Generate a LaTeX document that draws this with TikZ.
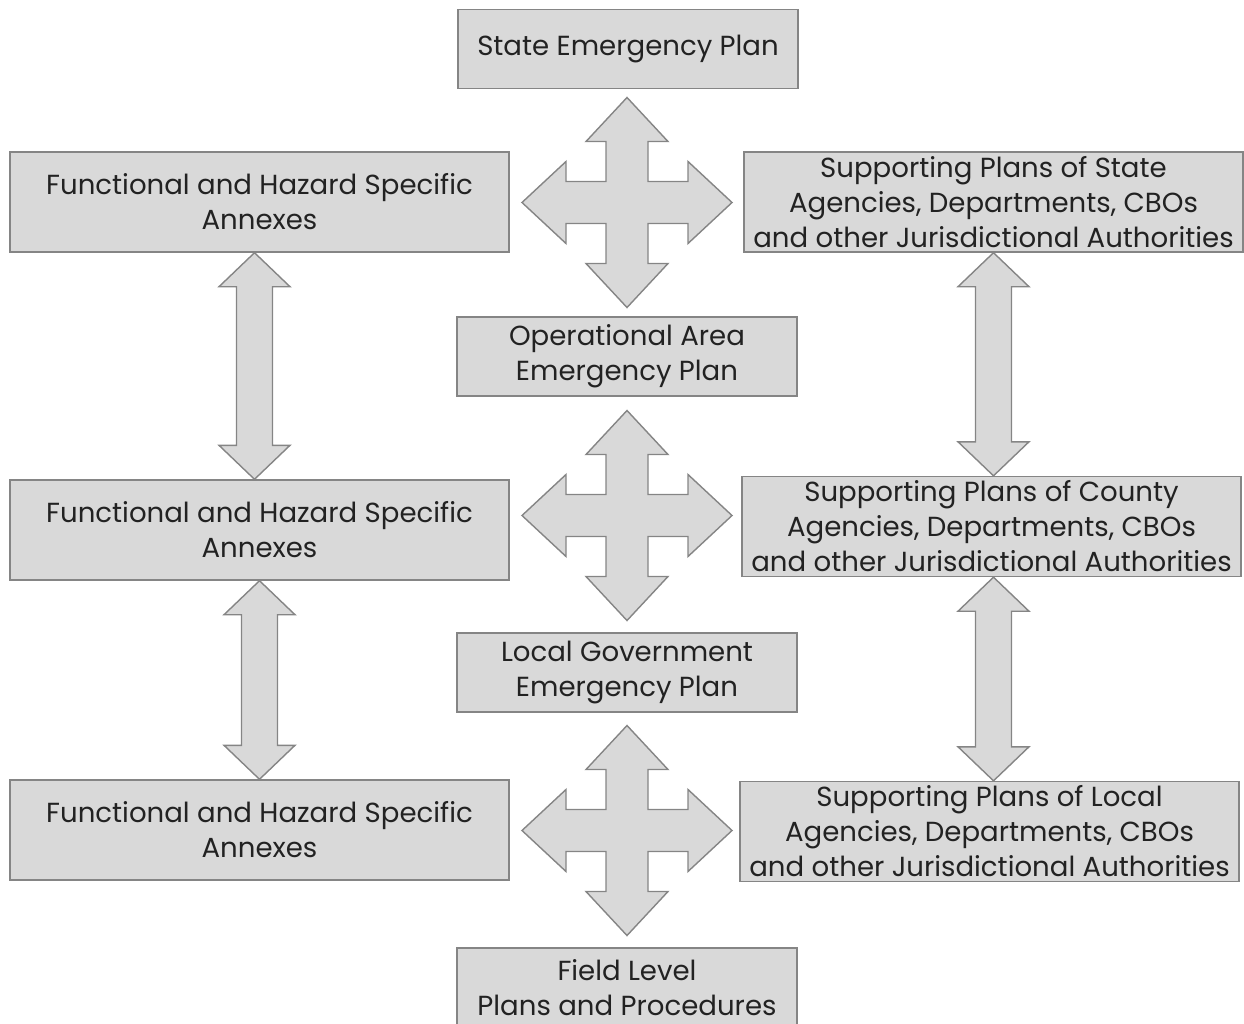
\documentclass[tikz,border=0pt]{standalone}
\usepackage{fontspec}
\setmainfont{Poppins}
\usepackage{xcolor}
\usetikzlibrary{calc}

\definecolor{boxfill}{HTML}{D9D9D9}
\definecolor{boxline}{HTML}{858585}
\definecolor{boxtext}{HTML}{222222}

\tikzset{
    plate/.style={draw=boxline,fill=boxfill,line width=0.8pt,line join=miter},
    plan/.style={plate,text=boxtext,align=center,inner sep=0pt,
        font=\fontsize{15.7}{19.9}\selectfont},
    midplan/.style={plan,minimum width=6.8cm,minimum height=1.58cm},
    sideplan/.style={plan,minimum width=9.98cm,minimum height=2cm}
}

% four-way arrow centred on #1
\newcommand{\crossarrow}[1]{%
    \draw[plate,shift={(#1)}] (0,2.1) -- (0.82,1.22) -- (0.42,1.22) -- (0.42,0.42)
        -- (1.22,0.42) -- (1.22,0.82) -- (2.1,0) -- (1.22,-0.82) -- (1.22,-0.42)
        -- (0.42,-0.42) -- (0.42,-1.22) -- (0.82,-1.22) -- (0,-2.1) -- (-0.82,-1.22)
        -- (-0.42,-1.22) -- (-0.42,-0.42) -- (-1.22,-0.42) -- (-1.22,-0.82) -- (-2.1,0)
        -- (-1.22,0.82) -- (-1.22,0.42) -- (-0.42,0.42) -- (-0.42,1.22) -- (-0.82,1.22) -- cycle;}

% up-down arrow from #1 (top tip) to #2 (bottom tip)
\newcommand{\linkarrow}[2]{%
    \draw[plate] (#1) -- ++(0.71,-0.68) -- ++(-0.35,0) -- ($(#2)+(0.36,0.68)$)
        -- ++(0.35,0) -- (#2) -- ++(-0.71,0.68) -- ++(0.35,0)
        -- ($(#1)+(-0.36,-0.68)$) -- ++(-0.35,0) -- cycle;}

\begin{document}
\begin{tikzpicture}
    \useasboundingbox (0,0) rectangle (24.88,-20.46);

    % centre column
    \node[midplan] (state) at (12.56,-0.98) {State Emergency Plan};
    \node[midplan] (oparea) at (12.54,-7.13) {Operational Area\\Emergency Plan};
    \node[midplan] (localgov) at (12.54,-13.45) {Local Government\\Emergency Plan};
    \node[midplan] (field) at (12.54,-19.75) {Field Level\\Plans and Procedures};

    % left column
    \node[sideplan] (annexA) at (5.19,-4.04) {Functional and Hazard Specific\\Annexes};
    \node[sideplan] (annexB) at (5.19,-10.6) {Functional and Hazard Specific\\Annexes};
    \node[sideplan] (annexC) at (5.19,-16.6) {Functional and Hazard Specific\\Annexes};

    % right column
    \node[sideplan] (suppState) at (19.87,-4.04) {Supporting Plans of State\\Agencies, Departments, CBOs\\and other Jurisdictional Authorities};
    \node[sideplan] (suppCounty) at (19.83,-10.53) {Supporting Plans of County\\Agencies, Departments, CBOs\\and other Jurisdictional Authorities};
    \node[sideplan] (suppLocal) at (19.79,-16.63) {Supporting Plans of Local\\Agencies, Departments, CBOs\\and other Jurisdictional Authorities};

    % hubs of the four-way arrows
    \coordinate (hubA) at (12.54,-4.05);
    \coordinate (hubB) at (12.54,-10.31);
    \coordinate (hubC) at (12.54,-16.61);
    \crossarrow{hubA}
    \crossarrow{hubB}
    \crossarrow{hubC}

    % ends of the up-down arrows
    \coordinate (annexAB) at ($(annexA.south)+(-0.1,0)$);
    \coordinate (annexBA) at ($(annexB.north)+(-0.1,0)$);
    \coordinate (suppCS) at (suppState.south |- suppCounty.north);
    \coordinate (suppCL) at (suppState.south |- suppCounty.south);
    \coordinate (suppLC) at (suppState.south |- suppLocal.north);
    \linkarrow{annexAB}{annexBA}
    \linkarrow{annexB.south}{annexC.north}
    \linkarrow{suppState.south}{suppCS}
    \linkarrow{suppCL}{suppLC}
\end{tikzpicture}
\end{document}
